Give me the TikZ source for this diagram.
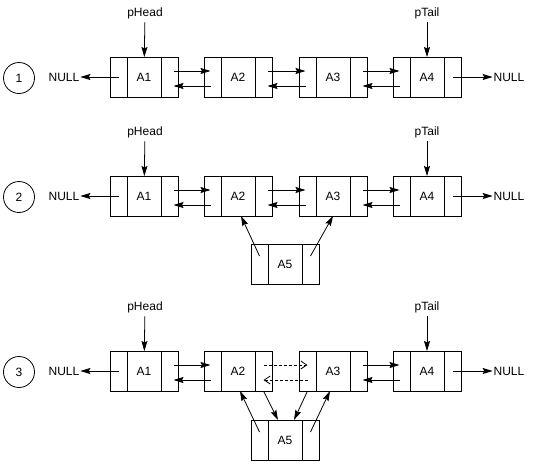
\documentclass[tikz,border=0pt]{standalone}
\usepackage{fontspec}
\setmainfont{Liberation Sans}
\usetikzlibrary{arrows.meta,positioning}

\newcommand{\lnode}[4]{%
  \node[datacell] (#1) at (#2,#3) {#4};
  \node[ptrcell,left=0pt of #1] (#1-l) {};
  \node[ptrcell,right=0pt of #1] (#1-r) {};
}

\begin{document}
\begin{tikzpicture}[x=1pt,y=-1pt,line width=0.8pt,
  font=\fontsize{12}{14}\selectfont,
  datacell/.style={draw,minimum width=34pt,minimum height=40pt,inner sep=0pt,outer sep=0pt},
  ptrcell/.style={draw,minimum width=17pt,minimum height=40pt,inner sep=0pt,outer sep=0pt},
  stepno/.style={draw,circle,minimum size=31pt,inner sep=0pt},
  nulltxt/.style={inner sep=1pt,outer sep=0pt},
  link/.style={-{Stealth[length=10pt,width=6pt,inset=1.5pt]}},
  newlink/.style={dash pattern=on 3pt off 2pt,-{Straight Barb[length=6pt,width=8pt]}}]

\useasboundingbox (0,0) rectangle (533,464);

% the list, three times
\foreach \r/\y in {1/77,2/196,3/371}{
  \node[stepno] (c\r) at (19,\y+1) {\r};
  \node[nulltxt] (nl\r) at (64,\y) {NULL};
  \node[nulltxt] (nr\r) at (509,\y) {NULL};
  \node (head\r) at (145,\y-64) {pHead};
  \node (tail\r) at (427,\y-64) {pTail};
  \foreach \i/\x in {1/144,2/238,3/333,4/427}
    \lnode{a\r\i}{\x}{\y}{A\i};
  \draw[link] (head\r) -- (a\r1);
  \draw[link] (tail\r) -- (a\r4);
  \draw[link] (a\r1-l.center) -- (nl\r.east);
  \draw[link] (a\r4-r.center) -- (nr\r.west);
}

% prev/next links
\foreach \r/\i/\j in {1/1/2,1/2/3,1/3/4,2/1/2,2/2/3,2/3/4,3/1/2,3/3/4}{
  \draw[link] ([xshift=4pt,yshift=6pt]a\r\i-r.center) -- ([xshift=-2pt,yshift=6pt]a\r\j-l.center);
  \draw[link] ([xshift=-2pt,yshift=-9pt]a\r\j-l.center) -- ([xshift=4pt,yshift=-9pt]a\r\i-r.center);
}

% new node
\lnode{b2}{285}{264}{A5}
\lnode{b3}{285}{440}{A5}

\draw[link] ([yshift=8pt]b2-l.center) -- ([xshift=3pt]a22.south);
\draw[link] ([yshift=8pt]b2-r.center) -- (a23.south);

\draw[link] ([yshift=8pt]b3-l.center) -- ([xshift=2pt]a32.south);
\draw[link] (a32-r.south) -- ([xshift=-7pt]b3.north);
\draw[link] (a33-l.south) -- ([xshift=9pt]b3.north);
\draw[link] ([yshift=8pt]b3-r.center) -- ([xshift=-3pt]a33.south);
\draw[newlink] ([yshift=6pt]a32-r.center) -- ([yshift=6pt]a33-l.center);
\draw[newlink] ([yshift=-9pt]a33-l.center) -- ([yshift=-9pt]a32-r.center);
\end{tikzpicture}
\end{document}
